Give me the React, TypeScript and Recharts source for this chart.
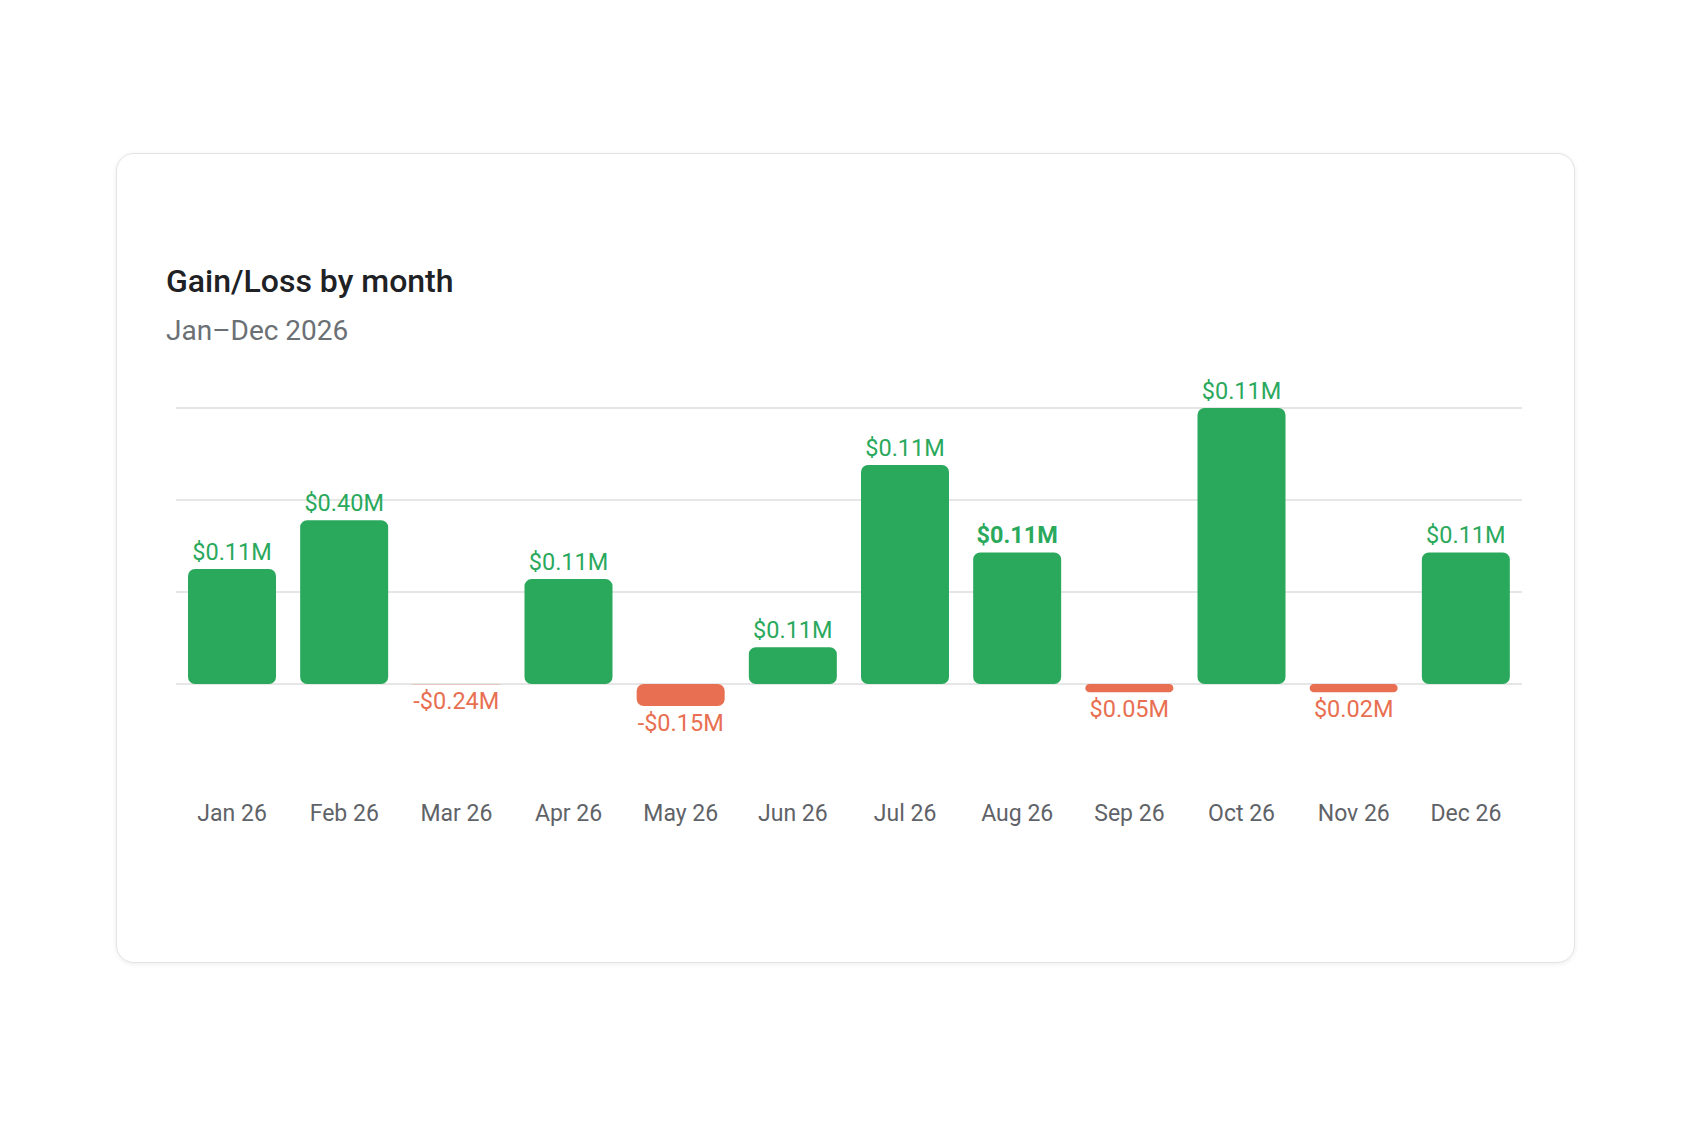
import React from 'react';
import { BarChart, Bar, XAxis, YAxis, CartesianGrid, LabelList, Cell } from 'recharts';

const months = ['Jan 26', 'Feb 26', 'Mar 26', 'Apr 26', 'May 26', 'Jun 26', 'Jul 26', 'Aug 26', 'Sep 26', 'Oct 26', 'Nov 26', 'Dec 26'];
const values = [125, 178, -0.4, 114, -24, 40, 238, 143, -9, 300, -9, 143];
const labels = ['$0.11M', '$0.40M', '-$0.24M', '$0.11M', '-$0.15M', '$0.11M', '$0.11M', '$0.11M', '$0.05M', '$0.11M', '$0.02M', '$0.11M'];
const boldLabels = [false, false, false, false, false, false, false, true, false, false, false, false];
const yTicks = [0, 100, 200, 300];
const yDomain = [-100, 300];

const GREEN = '#2aa95d';
const RED = '#e86f51';

const data = months.map((m, i) => ({ month: m, value: values[i], idx: i }));

const gridRows = (p: any) => {
  const scale = p && p.yAxis && p.yAxis.scale;
  if (typeof scale === 'function') return yTicks.map((t) => scale(t));
  const off = p.offset;
  return yTicks.map((t) => off.top + (off.height * (yDomain[1] - t)) / (yDomain[1] - yDomain[0]));
};

const renderLabel = (props: any) => {
  const index = Number(props.value);
  const vb = props.viewBox && props.viewBox.width !== undefined ? props.viewBox : props;
  const x = Number(vb.x);
  const y = Number(vb.y);
  const w = Number(vb.width);
  const h = Number(vb.height) || 0;
  const top = Math.min(y, y + h);
  const bottom = Math.max(y, y + h);
  const loss = values[index] < 0;
  const ty = loss ? bottom + 24.5 : top - 9;
  return (
    <text
      key={`lbl-${index}`}
      x={x + w / 2}
      y={ty}
      textAnchor="middle"
      fill={loss ? RED : GREEN}
      fontSize={23.5}
      fontWeight={boldLabels[index] ? 700 : 400}
      fontFamily="Roboto"
    >
      {labels[index]}
    </text>
  );
};

export default function App() {
  return (
    <div style={{ position: 'absolute', left: 0, top: 0, width: 1690, height: 1126, background: '#ffffff', fontFamily: 'Roboto' }}>
      <div
        style={{
          position: 'absolute',
          left: 116,
          top: 153,
          width: 1459,
          height: 810,
          boxSizing: 'border-box',
          border: '1.5px solid #e4e4e4',
          borderRadius: 18,
          boxShadow: '0 1px 5px rgba(0,0,0,0.08)',
          background: '#ffffff',
        }}
      />
      <div style={{ position: 'absolute', left: 166, top: 262, fontSize: 32, fontWeight: 500, color: '#202124', whiteSpace: 'nowrap' }}>
        Gain/Loss by month
      </div>
      <div style={{ position: 'absolute', left: 166, top: 314, fontSize: 28, fontWeight: 400, color: '#6b7075', whiteSpace: 'nowrap' }}>
        Jan–Dec 2026
      </div>
      <div style={{ position: 'absolute', left: 176, top: 348 }}>
        <BarChart width={1346} height={488} data={data} margin={{ top: 60, right: 0, left: 0, bottom: 0 }} barSize={88}>
          <CartesianGrid vertical={false} stroke="#e6e6e6" strokeWidth={2} horizontalCoordinatesGenerator={gridRows} />
          <XAxis
            dataKey="month"
            axisLine={false}
            tickLine={false}
            tickMargin={23}
            height={60}
            interval={0}
            tick={{ fill: '#5f6368', fontSize: 23, fontFamily: 'Roboto' }}
          />
          <YAxis hide domain={yDomain} ticks={yTicks} allowDataOverflow />
          <Bar dataKey="value" radius={7} isAnimationActive={false}>
            {data.map((d, i) => (
              <Cell key={i} fill={values[i] < 0 ? RED : GREEN} />
            ))}
            <LabelList dataKey="idx" content={renderLabel} />
          </Bar>
        </BarChart>
      </div>
    </div>
  );
}
